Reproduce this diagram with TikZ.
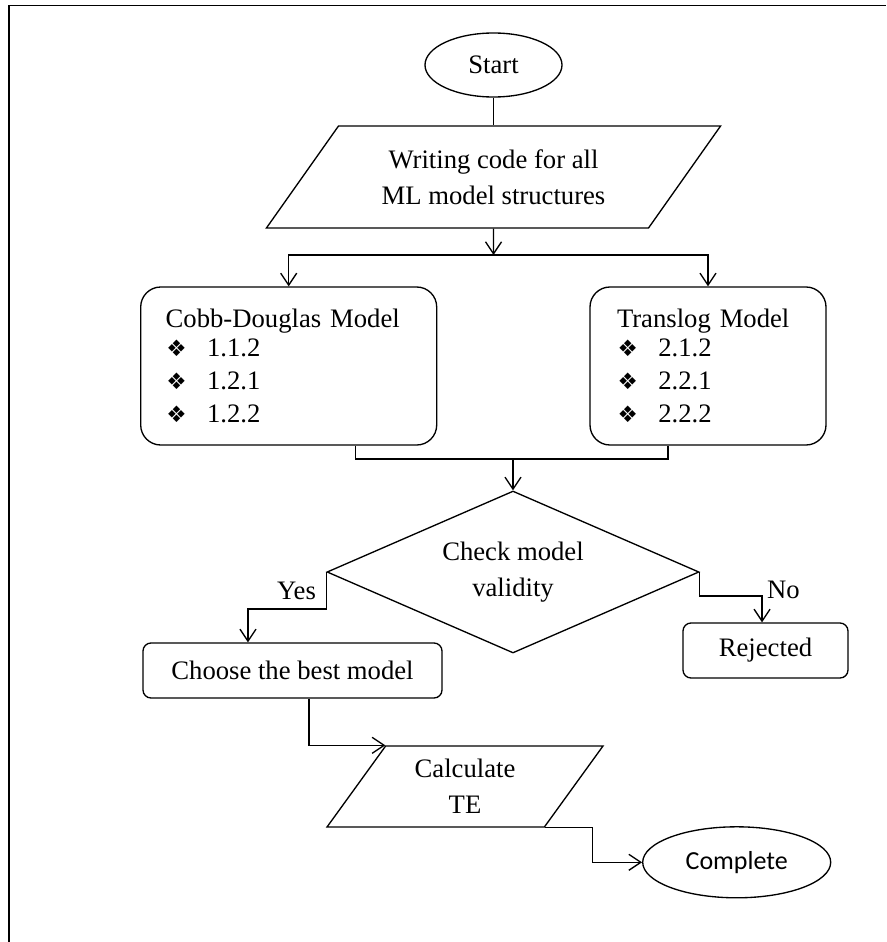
\documentclass[tikz,border=0pt]{standalone}
\usepackage{fontspec}
\setmainfont{Liberation Serif}
\newfontfamily\compfont{Carlito}
\newfontfamily\dingfont{DejaVu Sans}
\usepackage{tikz}
\usetikzlibrary{shapes.geometric, arrows.meta}
\newcommand{\diamondbul}{\makebox[31pt][l]{\hspace{0.5pt}{\dingfont\fontsize{17}{17}\selectfont ❖}}}
\tikzstyle{term}=[draw, ellipse, inner sep=0pt]
\tikzstyle{io}=[draw, trapezium, trapezium stretches=true, inner sep=2pt, align=center]
\tikzstyle{model}=[draw, rectangle, rounded corners=15pt, align=left, minimum height=118.5pt, font=\fontsize{20}{24.75}\selectfont]
\tikzstyle{proc}=[draw, rectangle, rounded corners=6pt, minimum height=41.25pt]
\tikzstyle{decision}=[draw, diamond, aspect=2.3, inner sep=0pt, align=center]

\begin{document}
\begin{tikzpicture}[x=0.75pt,y=-0.75pt,line width=1pt,>={Straight Barb[length=9pt,width=12pt]},font=\fontsize{20}{27}\selectfont]
  \useasboundingbox (0,0) rectangle (886,942);
  \draw[line width=1.2pt] (9,942) -- (9,5.7) -- (886,5.7);
  \node [term, minimum width=102.75pt, minimum height=48pt] (start) at (493.5,65) {Start};
  \node [io, trapezium left angle=48.6, trapezium right angle=131.4, minimum width=341.25pt, minimum height=76.5pt] (write) [below of=start, node distance=84pt] {Writing code for all\\ML model structures};
  \coordinate [below of=write, node distance=58.5pt] (split);
  \node [model, inner xsep=18.75pt, text width=184.5pt] (cobb) at (288.7,366) {Cobb-Douglas Model\\[-3pt]\diamondbul 1.1.2\\\diamondbul 1.2.1\\\diamondbul 1.2.2};
  \node [model, inner xsep=20.25pt, text width=136.5pt] (trans) at (708,366) {Translog Model\\[-3pt]\diamondbul 2.1.2\\\diamondbul 2.2.1\\\diamondbul 2.2.2};
  \coordinate (merge) at (513,459);
  \node [decision, minimum width=279pt, minimum height=121.5pt] (check) at (513,572) {Check model\\validity};
  \node [proc, minimum width=224.25pt] (choose) at (292.5,670.5) {Choose the best model};
  \node [proc, minimum width=123.75pt] (rejected) at (765.5,650.5) {Rejected};
  \node [io, trapezium left angle=56.8, trapezium right angle=123.2, minimum width=207pt, minimum height=60.75pt] (calc) at (465,786.5) {Calculate\\TE};
  \node [term, minimum width=141pt, minimum height=53.25pt, font=\compfont\fontsize{19.5}{22}\selectfont] (complete) at (736.7,862.3) {Complete};
  \draw (start) -- (write);
  \draw[->] (write) -- (split);
  \draw[->] (split) -| (cobb.north);
  \draw[->] (split) -| (trans.north);
  \draw ([xshift=50.25pt]cobb.south) |- (merge) -| ([xshift=-30pt]trans.south);
  \draw[->] (merge) -- (check);
  \draw[->] (check.west) -- ++(0,37) node[midway, left, xshift=-4pt] {Yes} -| ([xshift=-33.4pt]choose.north);
  \draw[->] (check.east) -- ++(0,24) -| node[pos=0.5, anchor=west, yshift=4.5pt] {No} ([xshift=-2.6pt]rejected.north);
  \draw[->] ([xshift=12.4pt]choose.south) |- (calc.top left corner);
  \draw[->] (calc.bottom right corner) -- ++(48,0) |- (complete.west);
\end{tikzpicture}
\end{document}
